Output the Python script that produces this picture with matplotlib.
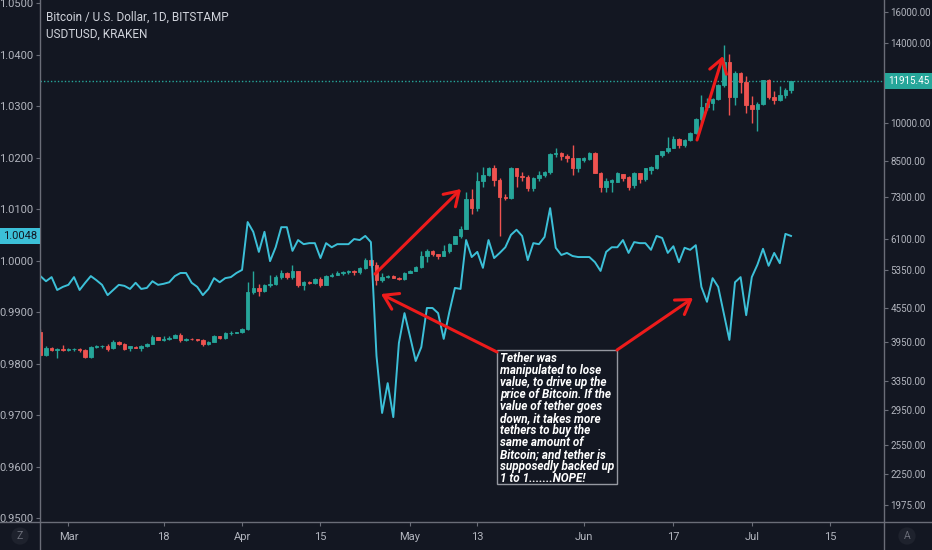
import numpy as np
import matplotlib
matplotlib.use('Agg')
import matplotlib.pyplot as plt
import matplotlib.dates as mdates
import matplotlib.transforms as mtransforms
from matplotlib import font_manager
from matplotlib.patches import Rectangle, FancyArrowPatch
from matplotlib.lines import Line2D
from matplotlib.ticker import FuncFormatter, NullLocator, FixedLocator

# ---- data (daily, 2019-02-24 .. 2019-07-08) ----
first_day = '2019-02-24'

btc_open = [4120, 3740, 3845, 3820, 3830, 3810, 3825, 3830, 3815, 3700,
            3865, 3870, 3875, 3840, 3950, 3915, 3840, 3865, 3845, 3870,
            3915, 4025, 3980, 3995, 4020, 4060, 3975, 3995, 3990, 3975,
            3905, 3945, 4040, 4010, 4090, 4100, 4110, 4160, 4880, 4960,
            4900, 5020, 5040, 5200, 5290, 5190, 5320, 5030, 5080, 5070,
            5150, 5030, 5220, 5250, 5290, 5300, 5330, 5300, 5390, 5580,
            5460, 5140, 5200, 5210, 5185, 5150, 5290, 5330, 5420, 5690,
            5800, 5720, 5680, 5800, 5990, 6180, 6370, 7230, 6960, 7800,
            8010, 8240, 7850, 7300, 7270, 8240, 7980, 7950, 7570, 7900,
            8010, 8120, 8760, 8810, 8700, 8620, 8240, 8550, 8560, 8790,
            8090, 7625, 7760, 7790, 8046, 7950, 7680, 8070, 7866, 8182,
            8240, 8721, 8880, 9000, 9350, 9080, 9300, 9560, 10180, 10700,
            10850, 11050, 11750, 12930, 11150, 12370, 11900, 10800, 10590, 10830,
            11980, 11150, 10990, 11250, 11480]
btc_high = [4160, 3880, 3860, 3840, 3900, 3850, 3840, 3840, 3830, 3880,
            3900, 3900, 3910, 3970, 3960, 3930, 3880, 3880, 3900, 3920,
            4060, 4030, 4040, 4040, 4080, 4090, 4010, 4010, 4000, 3990,
            3960, 4060, 4050, 4120, 4140, 4120, 4180, 5090, 5330, 5050,
            5050, 5240, 5250, 5350, 5300, 5470, 5340, 5110, 5120, 5170,
            5200, 5240, 5290, 5320, 5340, 5360, 5350, 5420, 5630, 5620,
            5530, 5290, 5230, 5240, 5200, 5300, 5350, 5440, 5800, 5840,
            5830, 5740, 5960, 6000, 6180, 6440, 7450, 7550, 8100, 8300,
            8300, 8340, 7920, 7380, 8300, 8250, 8100, 8000, 7950, 8140,
            8160, 8800, 8970, 8830, 8740, 9100, 8620, 8640, 8820, 8820,
            8100, 7920, 7880, 8120, 8060, 7960, 8100, 8080, 8260, 8320,
            8720, 8880, 9420, 9460, 9360, 9320, 9600, 10200, 11250, 11100,
            11100, 11800, 13900, 13400, 12450, 12400, 12200, 11200, 10900, 12000,
            12050, 11420, 11700, 11580, 11950]
btc_low = [3720, 3720, 3800, 3690, 3790, 3800, 3790, 3780, 3690, 3690,
           3840, 3850, 3800, 3830, 3900, 3820, 3800, 3840, 3800, 3860,
           3905, 3970, 3960, 3980, 4010, 3950, 3960, 3980, 3960, 3870,
           3890, 3940, 4000, 4000, 4070, 4090, 4100, 4150, 4830, 4800,
           4880, 4990, 5030, 5160, 5150, 5150, 4990, 4920, 5050, 5040,
           4980, 5020, 5200, 5240, 5230, 5270, 5230, 5270, 5380, 5420,
           5030, 5090, 5170, 5170, 5130, 5140, 5280, 5320, 5410, 5550,
           5680, 5610, 5670, 5760, 5980, 6140, 6370, 6800, 6870, 7600,
           7980, 7650, 6180, 7200, 7250, 7600, 7800, 7500, 7480, 7820,
           7950, 8060, 8650, 8550, 8450, 8020, 8100, 8480, 8540, 8080,
           7460, 7460, 7450, 7780, 7810, 7530, 7570, 7750, 7800, 8060,
           8200, 8650, 8800, 8980, 8980, 9040, 9250, 9530, 9950, 10550,
           10550, 10990, 11650, 10330, 10800, 11340, 10400, 9995, 9670, 10800,
           11080, 10820, 10980, 11100, 11360]
btc_close = [3740, 3845, 3820, 3830, 3810, 3825, 3830, 3815, 3700, 3865,
             3875, 3880, 3835, 3950, 3915, 3835, 3870, 3845, 3875, 3915,
             4025, 3980, 3995, 4020, 4060, 3975, 3995, 3990, 3975, 3905,
             3945, 4040, 4010, 4100, 4105, 4110, 4160, 4880, 4960, 4900,
             5020, 5040, 5200, 5290, 5190, 5320, 5030, 5080, 5070, 5150,
             5030, 5220, 5250, 5290, 5300, 5330, 5300, 5390, 5580, 5460,
             5140, 5200, 5210, 5185, 5150, 5290, 5330, 5420, 5690, 5800,
             5720, 5680, 5800, 5990, 6180, 6370, 7230, 6960, 7800, 8010,
             8240, 7850, 7300, 7270, 8240, 7980, 7950, 7570, 7900, 8010,
             8120, 8760, 8810, 8700, 8620, 8240, 8600, 8600, 8800, 8070,
             7625, 7820, 7845, 8070, 7900, 7625, 8070, 7866, 8240, 8298,
             8710, 8880, 9000, 9350, 9080, 9300, 9560, 10180, 10700, 10850,
             11050, 11750, 12930, 11150, 12370, 11900, 10800, 10590, 10830, 11980,
             11150, 10990, 11250, 11480, 11915.45]

usdt_close = [0.9970, 0.9960, 0.9968, 0.9943, 0.9949, 0.9953, 0.9968, 0.9943, 0.9957, 0.9970,
              0.9962, 0.9953, 0.9933, 0.9943, 0.9953, 0.9951, 0.9945, 0.9957, 0.9945, 0.9947,
              0.9960, 0.9953, 0.9955, 0.9958, 0.9970, 0.9976, 0.9976, 0.9957, 0.9949, 0.9933,
              0.9945, 0.9966, 0.9958, 0.9966, 0.9968, 0.9976, 0.9982, 1.0075, 1.0056, 1.0017,
              1.0056, 0.9999, 1.0026, 1.0065, 1.0065, 1.0019, 1.0040, 1.0032, 1.0034, 1.0034,
              1.0005, 1.0034, 1.0026, 1.0032, 1.0032, 1.0032, 1.0042, 1.0040, 1.0048, 1.0036,
              0.9815, 0.9704, 0.9762, 0.9696, 0.9840, 0.9898, 0.9852, 0.9805, 0.9832, 0.9908,
              0.9908, 0.9898, 0.9848, 0.9900, 0.9947, 0.9945, 1.0040, 1.0007, 1.0017, 0.9986,
              1.0040, 1.0005, 1.0015, 1.0026, 1.0050, 1.0060, 1.0048, 1.0001, 1.0034, 1.0032,
              1.0046, 1.0102, 1.0025, 1.0011, 1.0015, 1.0009, 1.0007, 1.0007, 1.0007, 0.9997,
              0.9980, 1.0017, 1.0026, 1.0026, 1.0040, 1.0015, 1.0036, 1.0034, 1.0034, 1.0021,
              1.0048, 1.0044, 1.0015, 1.0028, 0.9997, 1.0025, 1.0021, 1.0030, 0.9949, 0.9920,
              0.9966, 0.9949, 0.9898, 0.9846, 0.9958, 0.9968, 0.9894, 0.9968, 0.9992, 1.0023,
              0.9990, 1.0015, 0.9995, 1.0052, 1.0048]

left_ticks = [0.95, 0.96, 0.97, 0.98, 0.99, 1.00, 1.01, 1.02, 1.03, 1.04, 1.05]
right_ticks = [1975, 2250, 2550, 2950, 3350, 3950, 4550, 5350, 6100, 7300, 8500,
               10000, 14000, 16000]
x_tick_dates = ['2019-03-01', '2019-03-18', '2019-04-01', '2019-04-15', '2019-05-01',
                '2019-05-13', '2019-06-01', '2019-06-17', '2019-07-01', '2019-07-15']
x_tick_labels = ['Mar', '18', 'Apr', '15', 'May', '13', 'Jun', '17', 'Jul', '15']

title_1 = 'Bitcoin / U.S. Dollar, 1D, BITSTAMP'
title_2 = 'USDTUSD, KRAKEN'
note = ("Tether was\nmanipulated to lose\nvalue, to drive up the\nprice of Bitcoin. If the\n"
        "value of tether goes\ndown, it takes more\ntethers to buy the\nsame amount of\n"
        "Bitcoin; and tether is\nsupposedly backed up\n1 to 1.......NOPE!")

# ---- style ----
BG = '#131722'
TXT = '#b2b5be'
AXLINE = '#6a6d78'
UP = '#26a69a'
DOWN = '#ef5350'
LINE = '#3cc0d8'
ARROW = '#ee1b1b'

names = {f.name for f in font_manager.fontManager.ttflist}
font = next((f for f in ['Liberation Sans Narrow', 'Roboto', 'DejaVu Sans'] if f in names), 'DejaVu Sans')
plt.rcParams['font.family'] = [font, 'DejaVu Sans']

W, H = 932, 550
def fx(px):
    return px / W
def fy(py):
    return 1 - py / H

dates = mdates.date2num(np.arange(np.datetime64(first_day), np.datetime64(first_day) + len(btc_close)))
o = np.array(btc_open, float)
h = np.array(btc_high, float)
l = np.array(btc_low, float)
c = np.array(btc_close, float)
up = c >= o
cols = np.where(up, UP, DOWN)

fig = plt.figure(figsize=(W / 100, H / 100), dpi=100, facecolor=BG)
ax = fig.add_axes([fx(40), 28 / H, (884 - 40) / W, 522 / H])
ax.set_facecolor(BG)
axl = ax.twinx()

# candles (log scale, right axis)
ax.set_yscale('log')
ax.vlines(dates, l, h, colors=cols, lw=1, zorder=2)
ax.bar(dates, np.abs(c - o), bottom=np.minimum(o, c), width=0.62, color=cols,
       edgecolor=cols, linewidth=0.6, zorder=3)
ax.axhline(c[-1], color=UP, ls=(0, (1, 1.5)), lw=1, zorder=1)
ax.set_ylim(1838, 16830)
ax.yaxis.set_major_locator(FixedLocator(right_ticks))
ax.yaxis.set_minor_locator(NullLocator())
ax.yaxis.set_major_formatter(FuncFormatter(lambda v, p: '%.2f' % v))
ax.yaxis.set_ticks_position('right')

# USDT line (left axis)
axl.plot(dates, usdt_close, color=LINE, lw=1.4, zorder=4)
axl.set_ylim(0.94922, 1.05064)
axl.set_yticks(left_ticks)
axl.yaxis.set_major_formatter(FuncFormatter(lambda v, p: '%.4f' % v))
axl.yaxis.set_ticks_position('left')

ax.set_xlim(mdates.date2num(np.datetime64('2019-03-01')) - 5.07,
            mdates.date2num(np.datetime64('2019-03-01')) + 145.6)
ax.set_xticks(mdates.date2num(np.array(x_tick_dates, dtype='datetime64[D]')))
ax.set_xticklabels(x_tick_labels)

for a in (ax, axl):
    for s in a.spines.values():
        s.set_visible(False)
    a.tick_params(colors=AXLINE, labelcolor=TXT, labelsize=8, length=3, width=0.8, pad=2)
ax.tick_params(axis='y', labelsize=7.0, pad=1.5)
ax.tick_params(axis='x', pad=4)

# frame lines
fig.add_artist(Line2D([fx(40), fx(40)], [0, 1], color=AXLINE, lw=1))
fig.add_artist(Line2D([fx(884), fx(884)], [0, 1], color=AXLINE, lw=1))
fig.add_artist(Line2D([0, 1], [fy(522), fy(522)], color=AXLINE, lw=1))

# last-value labels on the scales
tl = mtransforms.blended_transform_factory(fig.transFigure, axl.transData)
fig.text(fx(3), usdt_close[-1], '%.4f' % usdt_close[-1], transform=tl, color=BG, fontsize=8,
         va='center', ha='left',
         bbox=dict(boxstyle='square,pad=0.25', fc=LINE, ec='none'))
tr = mtransforms.blended_transform_factory(fig.transFigure, ax.transData)
fig.text(fx(888), c[-1], '%.2f' % c[-1], transform=tr, color='white', fontsize=7.0,
         va='center', ha='left',
         bbox=dict(boxstyle='square,pad=0.3', fc=UP, ec='none'))

# legend texts
fig.text(fx(46), fy(17), title_1, color='#d1d4dc', fontsize=8.5, va='center')
fig.text(fx(46), fy(34), title_2, color='#d1d4dc', fontsize=8.5, va='center')

# small corner buttons
for px, s in ((20, 'Z'), (907, 'A')):
    fig.text(fx(px), fy(536), s, color='#6a6d78', fontsize=7.5, ha='center', va='center',
             bbox=dict(boxstyle='circle,pad=0.35', fc='#1e222d', ec='none'))

# annotation arrows (pixel positions)
arrows = [((375, 274), (461, 189)),
          ((497, 352), (381, 294)),
          ((617, 350), (693, 298)),
          ((697, 140), (723, 56))]
for (x0, y0), (x1, y1) in arrows:
    fig.add_artist(FancyArrowPatch((fx(x0), fy(y0)), (fx(x1), fy(y1)),
                                   transform=fig.transFigure,
                                   arrowstyle='->,head_length=0.7,head_width=0.45',
                                   mutation_scale=14, color=ARROW, lw=2.2,
                                   shrinkA=0, shrinkB=0, zorder=10))

# note box
fig.add_artist(Rectangle((fx(497), fy(484)), fx(617) - fx(497), fy(350) - fy(484),
                         transform=fig.transFigure, fc=BG, ec='#9598a1', lw=1, zorder=9))
fig.text(fx(500), fy(352), note, color='white', fontsize=8.5, fontweight='bold',
         fontstyle='italic', va='top', ha='left', linespacing=0.9, zorder=11)

fig.savefig('out.png', dpi=100, facecolor=BG)
